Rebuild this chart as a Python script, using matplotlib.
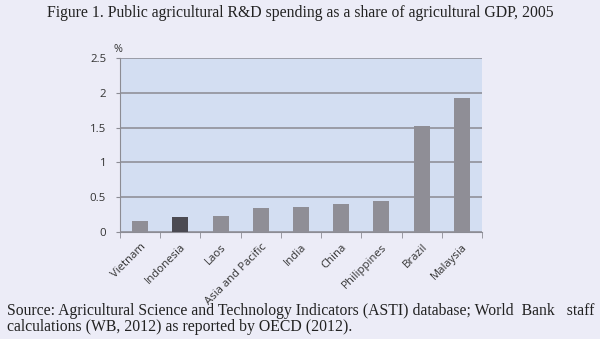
import matplotlib
matplotlib.use("Agg")
import matplotlib.pyplot as plt
import numpy as np

categories = ["Vietnam", "Indonesia", "Laos", "Asia and Pacific", "India", "China",
              "Philippines", "Brazil", "Malaysia"]
values = [0.16, 0.21, 0.23, 0.35, 0.36, 0.40, 0.44, 1.52, 1.93]
yticks = [0, 0.5, 1, 1.5, 2, 2.5]
ytick_labels = ["0", "0.5", "1", "1.5", "2", "2.5"]

bg = "#ECECF7"
fig = plt.figure(figsize=(6.0, 3.39), dpi=100, facecolor=bg)
ax = fig.add_axes([120/600, 1 - 232/339, (482-120)/600, (232-58)/339])
ax.set_facecolor("#D3DEF2")

x = np.arange(len(categories))
colors = ["#8F8E96"] * len(categories)
colors[1] = "#4B4A52"
ax.bar(x, values, width=0.4, color=colors, zorder=3)

ax.set_xlim(-0.5, len(categories) - 0.5)
ax.set_ylim(0, 2.5)
ax.set_yticks(yticks)
ax.set_yticklabels(ytick_labels)
ax.yaxis.grid(True, color="#8A8A92", linewidth=1.1, zorder=1)
ax.set_axisbelow(True)

ax.set_xticks(x)
ax.set_xticklabels(categories, rotation=45, ha="right", rotation_mode="anchor",
                   fontsize=8.2, color="#333333", family="Open Sans")
ax.tick_params(axis="x", which="major", length=0, pad=7)
ax.set_xticks(np.arange(-0.5, len(categories), 1), minor=True)
ax.tick_params(axis="x", which="minor", length=4, color="#8C8C94", direction="out")
ax.tick_params(axis="y", length=3, color="#8C8C94", labelsize=8.2, labelcolor="#333333", pad=7)
for lab in ax.get_yticklabels():
    lab.set_family("Open Sans")

for s in ["top", "right"]:
    ax.spines[s].set_visible(False)
ax.spines["left"].set_color("#8C8C94")
ax.spines["bottom"].set_color("#8C8C94")

fig.text(118/600, 1 - 50/339, "%", fontsize=7.8, color="#333333", family="Open Sans",
         ha="center", va="center")

fig.text(0.5, 1 - 13/339,
         "Figure 1. Public agricultural R&D spending as a share of agricultural GDP, 2005",
         ha="center", va="center", fontsize=11.3, family="Liberation Serif", color="#222222")

fig.text(7/600, 1 - 311/339,
         "Source: Agricultural Science and Technology Indicators (ASTI) database; World  Bank   staff",
         ha="left", va="center", fontsize=11.3, family="Liberation Serif", color="#222222")
fig.text(7/600, 1 - 327/339,
         "calculations (WB, 2012) as reported by OECD (2012).",
         ha="left", va="center", fontsize=11.3, family="Liberation Serif", color="#222222")

fig.savefig("out.png", dpi=100, facecolor=bg)
